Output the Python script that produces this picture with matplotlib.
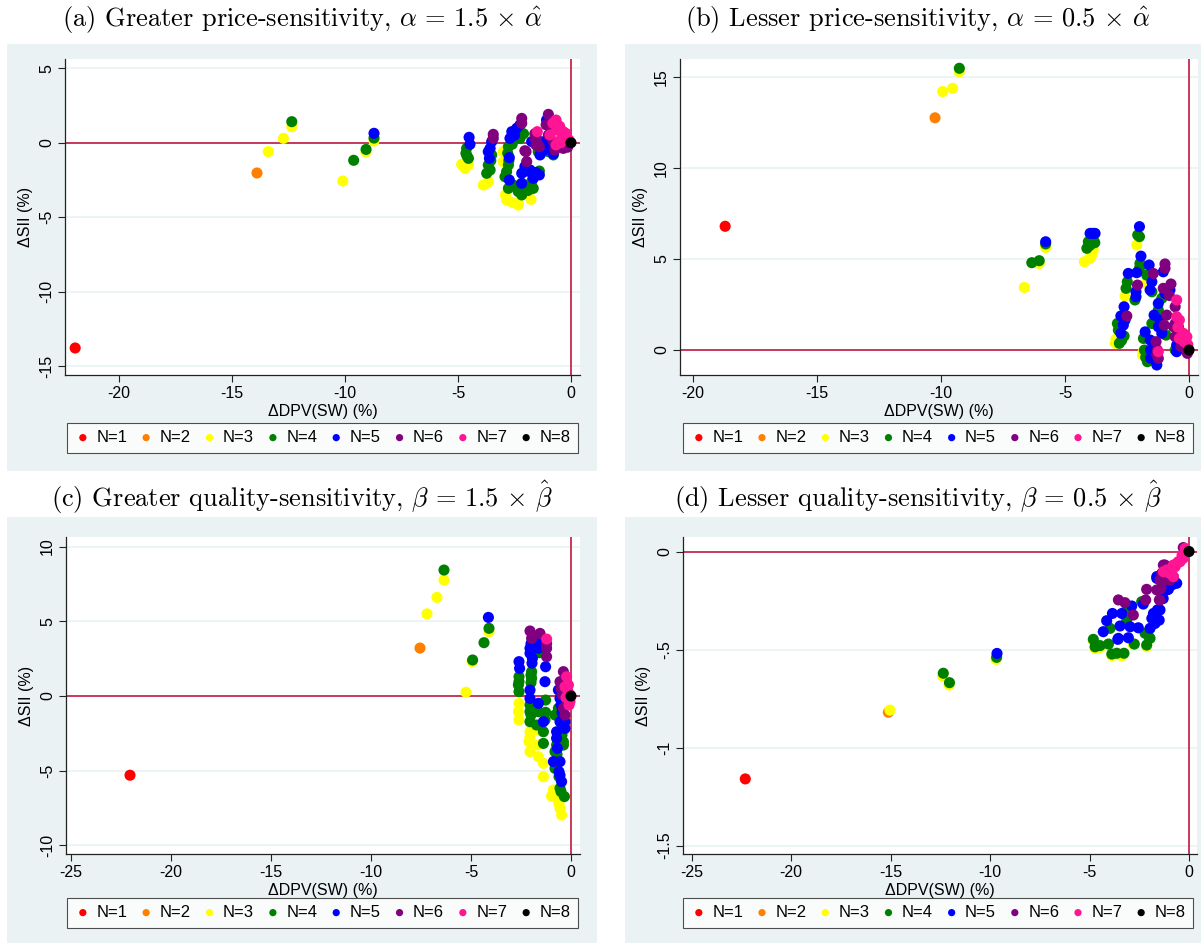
import matplotlib
matplotlib.use('Agg')
import matplotlib.pyplot as plt
from matplotlib.patches import Rectangle

W, H = 1201, 943

# group labels and marker colours
groups = ['N=1', 'N=2', 'N=3', 'N=4', 'N=5', 'N=6', 'N=7', 'N=8']
colors = ['#FF0000', '#FF7F00', '#FFFF00', '#008000', '#0000FF', '#800080', '#FF1493', '#000000']

# (a) greater price-sensitivity: (dDPV, dSII) points per N
pa_n1 = [(-21.95, -13.76)]
pa_n2 = [(-13.9, -2.03)]
pa_n3 = [(-13.4, -0.6), (-12.73, 0.29), (-12.36, 1.07), (-10.1, -2.57), (-9.08, -0.62), (-8.72, 0.11),
         (-4.84, -1.45), (-4.69, -1.72), (-4.54, -1.5), (-3.88, -2.84), (-3.73, -2.72), (-3.66, -2.61),
         (-3.0, -0.6), (-3.0, -1.27), (-2.85, -3.84), (-2.33, -4.06), (-2.33, -4.18), (-1.77, -3.8),
         (-2.9, -3.5), (-2.6, -4.0)]
pa_n4 = [(-12.36, 1.41), (-9.62, -1.18), (-9.07, -0.45), (-8.72, 0.31),
         (-4.62, -0.38), (-4.65, -0.71), (-4.54, -1.05), (-3.51, -0.82), (-3.66, -1.5), (-3.73, -2.05),
         (-3.58, -1.83), (-2.26, 0.29), (-2.77, -0.27), (-2.77, -1.5), (-2.85, -1.94), (-2.92, -2.28),
         (-2.77, -3.06), (-2.55, -2.84), (-2.33, -3.28), (-2.18, -3.5), (-1.74, -2.61), (-1.67, -3.06),
         (-1.4, -1.9), (-1.45, -0.6), (-1.0, -0.6), (-0.78, -0.82), (-1.52, -2.16), (-1.74, -3.06),
         (-2.8, -0.7), (-2.75, -1.2), (-2.6, -0.1), (-2.0, -2.9), (-1.9, -3.2), (-3.55, -1.2),
         (-2.1, 0.6), (-4.6, -0.9)]
pa_n5 = [(-8.72, 0.63), (-4.51, 0.36), (-4.47, -0.11), (-3.51, 0.07), (-3.58, -0.38), (-3.66, -0.6),
         (-3.61, -1.05), (-2.26, 1.19), (-2.4, 0.97), (-2.62, 0.74), (-2.7, 0.29), (-2.73, -1.0),
         (-2.73, -2.5), (-2.18, -2.72), (-2.04, -1.6), (-1.81, -1.83), (-2.18, -2.05), (-1.67, -2.28),
         (-1.4, -2.16), (-1.67, -2.39), (-1.74, 0.07), (-1.37, -0.82), (-1.08, 1.52), (-1.08, 0.18),
         (-0.93, -0.38), (-0.78, -0.75), (-2.5, 0.5), (-1.95, -1.9), (-1.55, -2.0), (-1.2, -0.5)]
pa_n6 = [(-3.44, 0.56), (-3.44, 0.29), (-2.18, 1.63), (-2.18, 1.3), (-1.99, -0.6), (-1.96, -1.27),
         (-2.04, -0.54), (-1.59, 0.29), (-1.55, -0.15), (-1.4, -0.27), (-1.52, 0.3), (-1.0, 1.9),
         (-0.93, 1.19), (-1.0, 0.52), (-0.78, 0.07), (-0.71, -0.49), (-0.19, -0.04), (-0.34, -0.38),
         (-1.1, 1.2), (-0.85, 0.8), (-0.15, -0.3), (-0.4, -0.2), (-1.6, 0.6)]
pa_n7 = [(-1.49, 0.74), (-0.66, 1.52), (-0.63, 0.85), (-0.93, 0.52), (-0.66, -0.15), (-0.34, 0.74),
         (-0.27, 0.4), (-0.41, 0.29), (-0.56, 0.07), (-0.45, 0.0), (-0.5, 1.1), (-0.2, 0.6),
         (-0.1, 0.2), (-0.8, 1.3)]
pa_n8 = [(0.0, 0.0)]

# (b) lesser price-sensitivity
pb_n1 = [(-18.7, 6.8)]
pb_n2 = [(-10.24, 12.76)]
pb_n3 = [(-9.93, 14.2), (-9.53, 14.38), (-9.26, 15.29), (-6.64, 3.44), (-6.04, 4.76), (-5.78, 5.64),
         (-4.22, 4.85), (-3.99, 5.04), (-3.86, 5.49), (-3.93, 5.2), (-2.11, 5.77), (-2.97, 0.37),
         (-2.58, 2.97), (-1.73, 3.66), (-1.87, -0.27), (-1.85, -0.1), (-2.95, 0.6)]
pb_n4 = [(-9.26, 15.48), (-6.34, 4.8), (-6.04, 4.91), (-5.78, 5.83), (-4.12, 5.59), (-4.06, 5.95),
         (-3.86, 6.04), (-3.8, 5.9), (-2.07, 6.32), (-2.0, 6.23), (-1.98, 4.76), (-2.0, 4.49),
         (-2.89, 1.46), (-2.62, 0.77), (-2.81, 0.37), (-2.72, 0.53), (-2.49, 3.75), (-2.54, 3.39),
         (-2.18, 2.75), (-1.71, 4.12), (-1.5, 3.2), (-1.1, 2.84), (-1.24, 2.2), (-1.5, 1.46),
         (-0.93, 0.82), (-1.84, 0.64), (-1.68, -0.64), (-1.8, 0.0), (-0.56, 0.0), (-2.85, 1.1),
         (-1.75, -0.4), (-4.0, 5.75)]
pb_n5 = [(-5.78, 5.95), (-3.99, 6.41), (-3.79, 6.41), (-3.89, 6.41), (-2.0, 6.78), (-2.62, 2.38),
         (-2.75, 1.87), (-2.65, 1.37), (-2.75, 0.92), (-2.58, 1.65), (-2.45, 4.21), (-2.11, 4.25),
         (-2.14, 3.2), (-2.14, 2.93), (-1.94, 5.16), (-1.61, 4.67), (-1.5, 3.75), (-1.57, 3.3),
         (-1.04, 4.3), (-0.97, 3.11), (-0.77, 3.3), (-1.24, 2.56), (-1.41, 1.92), (-1.17, 1.65),
         (-1.24, 1.28), (-1.1, 0.92), (-1.77, 1.0), (-1.57, 0.55), (-1.55, 0.0), (-1.3, -0.82),
         (-0.5, 0.27), (-0.5, -0.09), (-1.55, -0.45), (-1.3, -0.4)]
pb_n6 = [(-2.51, 1.87), (-2.08, 3.57), (-1.44, 4.21), (-0.97, 4.73), (-0.97, 4.49), (-1.04, 3.39),
         (-0.73, 3.63), (-0.9, 1.92), (-1.0, 1.37), (-0.56, 1.46), (-1.33, 0.46), (-1.28, 0.0),
         (-1.24, -0.46), (-0.56, 2.38), (-0.63, 1.28), (-0.43, 1.28), (-0.56, 0.73), (-0.07, -0.18),
         (-0.33, 0.2), (-0.8, 3.0), (-1.3, -0.25)]
pb_n7 = [(-1.24, -0.09), (-0.5, 2.75), (-0.5, 1.83), (-0.39, 1.65), (-0.23, 0.92), (-0.39, 0.64),
         (-0.09, 0.73), (-0.2, 0.46), (-0.05, 0.3), (-0.45, 1.25)]
pb_n8 = [(0.0, 0.0)]

# (c) greater quality-sensitivity
pc_n1 = [(-22.05, -5.3)]
pc_n2 = [(-7.55, 3.21)]
pc_n3 = [(-7.2, 5.5), (-6.7, 6.6), (-6.35, 7.76), (-5.25, 0.25), (-4.95, 2.3), (-4.1, 4.3),
         (-2.6, -0.49), (-2.63, -1.05), (-2.6, -1.6), (-2.05, -2.39), (-2.1, -3.06), (-2.05, -3.72),
         (-1.67, -3.28), (-1.63, -4.06), (-1.38, -4.5), (-1.38, -5.4), (-1.63, -2.27), (-0.88, -6.29),
         (-0.97, -6.7), (-0.63, -6.96), (-0.55, -7.51), (-0.47, -7.96), (-0.6, -7.2), (-2.05, -2.75)]
pc_n4 = [(-6.35, 8.43), (-4.92, 2.41), (-4.35, 3.57), (-4.1, 4.53), (-2.6, 1.29), (-2.63, 0.74),
         (-2.6, 0.29), (-2.6, 0.96), (-1.97, 1.63), (-1.97, 1.18), (-2.05, -0.6), (-2.0, -1.27),
         (-2.05, -1.72), (-2.05, -1.05), (-1.27, -0.27), (-1.63, -1.05), (-1.27, -1.09), (-1.38, -2.39),
         (-1.38, -3.17), (-1.72, -1.94), (-0.8, -3.72), (-0.8, -4.84), (-0.55, -6.17), (-0.33, -6.73),
         (-0.38, -3.06), (-0.38, -3.28), (-0.72, -3.28), (-0.63, -0.82), (-0.8, -1.27), (-1.58, 2.9),
         (-0.7, -3.9), (-0.65, -4.3), (-0.6, -5.4), (-0.5, -6.4), (-2.0, 1.4), (-2.0, 0.9),
         (-1.3, -1.6), (-0.45, -2.6)]
pc_n5 = [(-4.13, 5.26), (-2.6, 2.3), (-2.57, 1.85), (-2.05, 3.19), (-2.05, 2.86), (-1.93, 2.52),
         (-2.05, 0.4), (-2.05, -0.16), (-1.63, 3.63), (-1.63, 3.19), (-1.27, 1.96), (-1.3, 0.96),
         (-1.63, -0.49), (-1.38, -1.72), (-0.72, -2.39), (-0.72, -2.83), (-0.88, -4.39), (-0.55, -4.39),
         (-0.6, -5.06), (-0.47, -5.73), (-0.63, 0.4), (-0.55, -0.16), (-0.3, -1.72), (-0.3, -2.17),
         (-0.55, -1.72), (-0.68, -3.5), (-2.0, 3.5), (-1.95, 2.2), (-0.5, -0.6), (-0.45, -1.1),
         (-0.55, -5.3)]
pc_n6 = [(-2.05, 4.35), (-1.97, 3.86), (-1.55, 4.19), (-1.22, 3.19), (-1.22, 2.63), (-0.38, 1.63),
         (-0.55, 0.96), (-0.38, -0.82), (-0.3, -1.27), (-0.22, -0.27), (-0.5, 0.5), (-0.45, 0.1),
         (-1.22, 3.5)]
pc_n7 = [(-1.22, 3.81), (-0.22, 1.29), (-0.13, 0.74), (-0.05, 0.07), (-0.05, -0.38), (-0.3, 0.62),
         (-0.15, 0.3), (-0.1, -0.6), (-0.25, -0.1)]
pc_n8 = [(0.0, 0.0)]

# (d) lesser quality-sensitivity
pd_n1 = [(-22.3, -1.16)]
pd_n2 = [(-15.11, -0.82)]
pd_n3 = [(-15.03, -0.809), (-12.38, -0.635), (-12.06, -0.681), (-9.7, -0.55), (-4.72, -0.495),
         (-3.88, -0.532), (-3.38, -0.532), (-4.47, -0.49), (-2.13, -0.485), (-2.8, -0.475),
         (-3.63, -0.525), (-4.81, -0.455)]
pd_n4 = [(-12.35, -0.621), (-12.04, -0.669), (-9.67, -0.54), (-4.81, -0.448), (-4.72, -0.486),
         (-4.47, -0.48), (-4.05, -0.472), (-3.88, -0.523), (-3.63, -0.519), (-3.27, -0.519),
         (-2.75, -0.472), (-2.13, -0.477), (-2.0, -0.438), (-2.21, -0.417), (-3.97, -0.392),
         (-3.13, -0.349), (-2.38, -0.256), (-1.96, -0.443), (-3.13, -0.298)]
pd_n5 = [(-9.65, -0.52), (-4.31, -0.409), (-3.58, -0.448), (-3.05, -0.44), (-4.14, -0.353),
         (-3.85, -0.316), (-3.47, -0.38), (-3.38, -0.316), (-2.96, -0.384), (-2.55, -0.389),
         (-1.96, -0.392), (-1.87, -0.341), (-1.79, -0.316), (-1.59, -0.298), (-2.3, -0.268),
         (-2.88, -0.278), (-1.62, -0.137), (-1.04, -0.193), (-0.62, -0.162), (-1.46, -0.298),
         (-1.71, -0.367), (-1.12, -0.196), (-1.62, -0.128), (-3.55, -0.443), (-1.3, -0.24),
         (-1.5, -0.35), (-0.85, -0.17)]
pd_n6 = [(-3.55, -0.247), (-3.22, -0.261), (-2.8, -0.324), (-2.13, -0.193), (-2.18, -0.247),
         (-1.49, -0.247), (-1.41, -0.188), (-1.29, -0.069), (-1.37, -0.111), (-0.95, -0.145),
         (-1.12, -0.095), (-0.29, 0.02), (-1.46, -0.145), (-1.62, -0.196), (-0.79, -0.128),
         (-1.21, -0.069), (-1.46, -0.247), (-1.1, -0.13), (-1.3, -0.15)]
pd_n7 = [(-1.12, -0.094), (-0.7, -0.078), (-0.45, -0.052), (-0.2, -0.009), (-0.79, -0.128),
         (-0.2, 0.016), (-0.29, -0.035), (-0.54, -0.052), (-0.95, -0.094), (-1.29, -0.103),
         (-0.79, -0.069), (-0.35, -0.02), (-0.6, -0.06), (-1.0, -0.11)]
pd_n8 = [(0.0, 0.0)]

titles = [r'(a) Greater price-sensitivity, $\alpha \,=\, 1.5 \,\times\, \hat{\alpha}$',
          r'(b) Lesser price-sensitivity, $\alpha \,=\, 0.5 \,\times\, \hat{\alpha}$',
          r'(c) Greater quality-sensitivity, $\beta \,=\, 1.5 \,\times\, \hat{\beta}$',
          r'(d) Lesser quality-sensitivity, $\beta \,=\, 0.5 \,\times\, \hat{\beta}$']

a_xticks = [-20, -15, -10, -5, 0]
a_yticks = [5, 0, -5, -10, -15]
b_xticks = [-20, -15, -10, -5, 0]
b_yticks = [15, 10, 5, 0]
c_xticks = [-25, -20, -15, -10, -5, 0]
c_yticks = [10, 5, 0, -5, -10]
d_xticks = [-25, -20, -15, -10, -5, 0]
d_yticks = [0, -0.5, -1, -1.5]

panels = [
    dict(pts=[pa_n1, pa_n2, pa_n3, pa_n4, pa_n5, pa_n6, pa_n7, pa_n8], xt=a_xticks, yt=a_yticks,
         xlim=(-22.4, 0.4), ylim=(-15.57, 5.61),
         bg=(7, 44, 597, 471), ax=(65, 59, 580, 375), leg=(67, 424, 578, 451), tx=302, ty=20),
    dict(pts=[pb_n1, pb_n2, pb_n3, pb_n4, pb_n5, pb_n6, pb_n7, pb_n8], xt=b_xticks, yt=b_yticks,
         xlim=(-20.52, 0.36), ylim=(-1.37, 15.99),
         bg=(625, 44, 1201, 471), ax=(680, 59, 1198, 375), leg=(683, 424, 1193, 451), tx=918, ty=20),
    dict(pts=[pc_n1, pc_n2, pc_n3, pc_n4, pc_n5, pc_n6, pc_n7, pc_n8], xt=c_xticks, yt=c_yticks,
         xlim=(-25.25, 0.45), ylim=(-10.57, 10.64),
         bg=(7, 517, 597, 943), ax=(66, 537, 580, 854), leg=(67, 899, 578, 926), tx=302, ty=497),
    dict(pts=[pd_n1, pd_n2, pd_n3, pd_n4, pd_n5, pd_n6, pd_n7, pd_n8], xt=d_xticks, yt=d_yticks,
         xlim=(-25.43, 0.40), ylim=(-1.543, 0.074),
         bg=(625, 517, 1201, 943), ax=(683, 537, 1197, 854), leg=(683, 899, 1193, 926), tx=918, ty=497),
]


def frac(b):
    x0, y0, x1, y1 = b
    return [x0 / W, 1 - y1 / H, (x1 - x0) / W, (y1 - y0) / H]


def stata_label(v):
    s = f'{v:g}'
    return s.replace('-0.', '-.').replace('0.', '.') if abs(v) < 1 else s


plt.rcParams['font.family'] = 'Liberation Sans'
plt.rcParams['mathtext.fontset'] = 'cm'

fig = plt.figure(figsize=(W / 100, H / 100), dpi=100)
fig.patch.set_facecolor('white')

for i, p in enumerate(panels):
    fig.add_artist(Rectangle(frac(p['bg'])[:2], *frac(p['bg'])[2:], transform=fig.transFigure,
                             facecolor='#EAF2F3', edgecolor='none', zorder=0))
    fig.text(p['tx'] / W, 1 - p['ty'] / H, titles[i], family='cmr10', fontsize=19,
             ha='center', va='center')

    ax = fig.add_axes(frac(p['ax']))
    ax.set_facecolor('white')
    ax.set_xlim(*p['xlim'])
    ax.set_ylim(*p['ylim'])
    for s in ['top', 'right']:
        ax.spines[s].set_visible(False)
    for s in ['left', 'bottom']:
        ax.spines[s].set_color('#222222')
        ax.spines[s].set_linewidth(0.9)

    ax.set_xticks(p['xt'])
    ax.set_xticklabels([stata_label(v) for v in p['xt']], fontsize=11.5)
    ax.set_yticks(p['yt'])
    ax.set_yticklabels([stata_label(v) for v in p['yt']], fontsize=11.5, rotation=90, va='center')
    ax.tick_params(length=5, width=0.8, color='#222222', pad=3)
    ax.yaxis.grid(True, color='#EAF2F3', lw=1.2)
    ax.set_axisbelow(True)

    ax.axhline(0, color='#C42A4E', lw=1.3, zorder=1.5)
    ax.axvline(0, color='#C42A4E', lw=1.3, zorder=1.5)

    handles = []
    for pts, c, g in zip(p['pts'], colors, groups):
        xs = [q[0] for q in pts]
        ys = [q[1] for q in pts]
        handles.append(ax.scatter(xs, ys, s=64, color=c, edgecolors='none', zorder=3, label=g))

    ax.set_xlabel('ΔDPV(SW) (%)', fontsize=11.5, labelpad=2)
    ax.set_ylabel('ΔSII (%)', fontsize=11.5, labelpad=4)

    leg = ax.legend(handles, groups, ncol=8, loc='center', mode='expand',
                    bbox_to_anchor=frac(p['leg']), bbox_transform=fig.transFigure,
                    fontsize=12, frameon=True, fancybox=False, borderaxespad=0,
                    handletextpad=0.3, handlelength=1.0, markerscale=0.65, borderpad=0.45)
    leg.get_frame().set_edgecolor('#222222')
    leg.get_frame().set_linewidth(0.8)

fig.savefig('out.png', dpi=100)
